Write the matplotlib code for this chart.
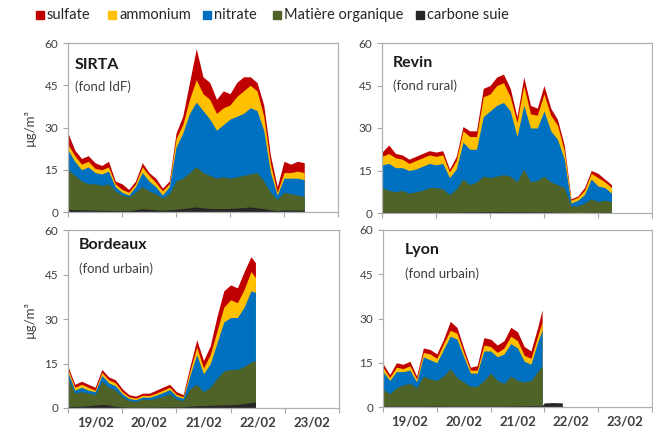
import numpy as np
import matplotlib
matplotlib.use('Agg')
import matplotlib.pyplot as plt
from matplotlib.patches import Rectangle

plt.rcParams['font.family'] = ['Lato', 'DejaVu Sans']

# hours since 19/02 00:00, cumulative tops of each stacked layer (ug/m3)
sirta_h = [0, 3, 6, 9, 12, 15, 18, 21, 24, 27, 30, 33, 36, 39, 42, 45, 48, 51,
           54, 57, 60, 63, 66, 69, 72, 75, 78, 81, 84, 87, 90, 93, 96, 99, 102, 105]
sirta_sulfate = [28, 22, 19, 20, 17.5, 16.5, 18, 11, 10, 8, 11, 17.5, 14, 12, 8.5, 11, 28, 34,
                 46, 58, 48, 46, 40, 43, 42, 46, 48, 48, 46, 38, 20, 9, 18, 17, 18, 17.5]
sirta_ammonium = [24, 20, 17, 18, 15.5, 15, 16, 10, 8, 7, 10, 16, 13, 10.5, 7.5, 10, 26, 31,
                  40, 47, 42, 40, 35, 37, 38, 41, 43, 45, 43, 34, 17, 7, 14, 14, 14.5, 14]
sirta_nitrate = [22, 18, 15, 16, 14, 13.5, 14.5, 9, 7, 6, 9, 14, 11, 9, 6, 9, 23, 28,
                 35, 39, 36, 33, 29, 31, 33, 34, 35, 37, 36, 29, 14, 6, 12, 12, 12, 11.5]
sirta_om = [15, 13, 11, 10, 10, 9.5, 10, 7.5, 6, 5.5, 7, 9, 7.5, 6.5, 5, 6.5, 11, 12,
            14, 16, 14, 13, 12, 12.5, 12, 12.5, 13, 13.5, 14, 11, 7, 4.5, 7, 6.5, 6, 5.5]
sirta_bc = [1, 0.8, 0.8, 0.7, 0.7, 0.6, 0.6, 0.5, 0.5, 0.5, 0.8, 1.2, 1.0, 0.8, 0.6, 0.8, 1.0, 1.2,
            1.5, 1.8, 1.5, 1.3, 1.2, 1.2, 1.3, 1.4, 1.6, 1.8, 1.5, 1.2, 0.8, 0.5, 0.8, 0.7, 0.7, 0.6]

revin_h = [0, 3, 6, 9, 12, 15, 18, 21, 24, 27, 30, 33, 36, 39, 42, 45, 48, 51,
           54, 57, 60, 63, 66, 69, 72, 75, 78, 81, 84, 87, 90, 93, 96, 99, 102]
revin_sulfate = [21.5, 24, 21, 20.5, 19, 20, 21, 22, 21.5, 22, 15.5, 20, 30.5, 29, 29, 44, 45, 48,
                 49, 44, 34, 48, 38, 37, 45, 37, 33, 24, 5, 6, 9, 15, 14, 12, 10]
revin_ammonium = [20, 21, 19.5, 19, 17.5, 18.5, 19.5, 20.5, 20, 20.5, 14.5, 18.5, 29, 27, 27, 41, 42, 45,
                  46, 41, 32, 45, 35, 34.5, 42, 34.5, 31, 22, 4.5, 5.5, 8, 14, 12.5, 11, 9]
revin_nitrate = [17, 17.5, 16, 16, 15, 15.5, 16.5, 17.5, 17, 17.5, 12.5, 15.5, 25, 22.5, 22.5, 34, 36, 38,
                 39, 36, 27, 38, 30, 30, 36, 29, 26, 19, 3.5, 4.5, 6.5, 12, 9.5, 9, 7]
revin_om = [9, 8, 7.5, 8, 7, 7.5, 8, 9, 9, 8.5, 6.5, 8.5, 12, 10, 11, 13, 12.5, 13,
            13.5, 13, 11, 15.5, 11, 11.5, 13, 11, 10, 9, 2.5, 2.5, 3.5, 5, 4, 4.5, 4]
revin_bc = [0.3, 0.3, 0.3, 0.3, 0.3, 0.3, 0.3, 0.3, 0.3, 0.3, 0.3, 0.3, 0.4, 0.4, 0.4, 0.5, 0.5, 0.5,
            0.5, 0.5, 0.4, 0.5, 0.4, 0.4, 0.4, 0.4, 0.3, 0.3, 0.2, 0.2, 0.2, 0.3, 0.3, 0.3, 0.3]

bordeaux_h = [0, 3, 6, 9, 12, 15, 18, 21, 24, 27, 30, 33, 36, 39, 42, 45, 48, 51,
              54, 57, 60, 63, 66, 69, 72, 75, 78, 81, 83]
bordeaux_sulfate = [14, 8, 9, 8, 7, 13, 10.5, 9.5, 6.5, 4.5, 4, 5, 5, 6, 7, 8, 5.5, 4.5,
                    14, 23, 16, 21, 31, 39.5, 41.5, 40.5, 46, 51, 49]
bordeaux_ammonium = [13, 7, 8, 7, 6, 12, 9.5, 8.5, 5.5, 3.8, 3.3, 4.3, 4.2, 5, 6, 7, 4.6, 3.8,
                     12.5, 20.5, 13.5, 18, 26, 34, 36.5, 35.5, 40, 46, 44]
bordeaux_nitrate = [12, 6, 7, 6, 5.5, 11, 8.5, 7.5, 4.8, 3.2, 2.8, 3.7, 3.6, 4.3, 5.2, 6.2, 4, 3.3,
                    11, 18, 11.5, 15, 22, 29, 30.5, 30.5, 34, 39.5, 39]
bordeaux_om = [10, 5, 5.5, 5, 4.5, 9, 7, 6, 3.8, 2.5, 2.2, 3, 2.8, 3.3, 4, 4.8, 3, 2.5,
               6.5, 8, 5.5, 7, 10, 12.5, 13, 13, 14, 15.5, 16]
bordeaux_bc = [0.5, 0.5, 0.6, 0.8, 1.0, 1.2, 1.0, 0.6, 0.4, 0.3, 0.3, 0.3, 0.3, 0.3, 0.4, 0.4, 0.4, 0.4,
               0.6, 0.8, 0.8, 0.9, 1.0, 1.0, 1.1, 1.2, 1.5, 1.8, 2.0]

lyon_h = [0, 3, 6, 9, 12, 15, 18, 21, 24, 27, 30, 33, 36, 39, 42, 45, 48, 51,
          54, 57, 60, 63, 66, 69, 71]
lyon_sulfate = [14.7, 11, 15, 14.5, 15.5, 10.5, 20, 19.5, 18, 23, 29, 27, 20, 13.5, 14, 23.5, 23, 21,
                22.5, 27, 25.5, 20.5, 19, 27, 33]
lyon_ammonium = [13.5, 10, 13.5, 13, 14, 9.5, 18.5, 18, 16.5, 21.5, 26, 25, 18.5, 12.5, 12.5, 21, 20.5, 18.5,
                 20, 24, 22.5, 17.5, 16.5, 24, 29]
lyon_nitrate = [12, 9, 12, 12, 12.5, 8.5, 17, 16, 15, 19.5, 24, 23, 17, 11.5, 11.5, 19, 19, 17,
                18, 21.5, 20, 15.5, 14.5, 22, 26]
lyon_om = [6, 4.5, 6.5, 7.5, 8, 6.5, 10.5, 9.5, 9, 10.5, 13, 10, 8.5, 7, 7, 9, 11.5, 9,
           8, 10.5, 9, 8.5, 9, 12, 14]
lyon_bc_h = [0, 12, 24, 36, 48, 60, 71, 72, 76, 80]
lyon_bc = [0.3, 0.3, 0.4, 0.3, 0.3, 0.4, 0.5, 1.4, 1.5, 1.4]

layer_names = ['sulfate', 'ammonium', 'nitrate', 'Matière organique', 'carbone suie']
layer_colors = ['#C00000', '#FFC000', '#0070C0', '#4F6228', '#262626']
day_labels = ['19/02', '20/02', '21/02', '22/02', '23/02']

W, H = 653, 430
fig = plt.figure(figsize=(W / 100, H / 100), dpi=100)


def px_axes(x0, y0, x1, y1):
    return fig.add_axes([x0 / W, 1 - y1 / H, (x1 - x0) / W, (y1 - y0) / H])


def draw(ax, hours, tops, bc_hours, bc, name, sub, title_pos, bottom, ylabel):
    t = np.array(hours) / 24
    for top, col in zip(tops, layer_colors[:4]):
        ax.fill_between(t, 0, top, color=col, lw=0)
    ax.fill_between(np.array(bc_hours) / 24, 0, bc, color=layer_colors[4], lw=0)
    ax.set_xlim(0, 5)
    ax.set_ylim(0, 60)
    ax.set_yticks([0, 15, 30, 45, 60])
    ax.set_xticks(range(6))
    ax.set_xticklabels([])
    if bottom:
        ax.set_xticks(np.arange(5) + 0.5, minor=True)
        ax.set_xticklabels(day_labels, minor=True, fontsize=9.5, fontweight='bold', color='#404040')
    ax.tick_params(which='minor', length=0, pad=6)
    ax.tick_params(which='major', length=3.5, color='#A6A6A6', labelsize=8.5,
                   labelcolor='#404040', width=0.8)
    for s in ax.spines.values():
        s.set_color('#B0B0B0')
        s.set_linewidth(0.9)
    tx, ty, sy = title_pos
    ax.text(tx, ty, name, transform=ax.transAxes,
            fontsize=11.5, fontweight='bold', color='#1a1a1a', va='center')
    ax.text(tx, sy, sub, transform=ax.transAxes,
            fontsize=9.5, color='#404040', va='center')
    if ylabel:
        ax.set_ylabel('µg/m³', fontsize=9.5, color='#404040', labelpad=6)


ax1 = px_axes(68, 43, 338, 212)
draw(ax1, sirta_h, [sirta_sulfate, sirta_ammonium, sirta_nitrate, sirta_om],
     sirta_h, sirta_bc, 'SIRTA', '(fond IdF)', (0.025, 0.87, 0.74), False, True)
ax2 = px_axes(382, 43, 652, 213)
draw(ax2, revin_h, [revin_sulfate, revin_ammonium, revin_nitrate, revin_om],
     revin_h, revin_bc, 'Revin', '(fond rural)', (0.04, 0.885, 0.75), False, False)
ax3 = px_axes(68, 230, 339, 408)
draw(ax3, bordeaux_h, [bordeaux_sulfate, bordeaux_ammonium, bordeaux_nitrate, bordeaux_om],
     bordeaux_h, bordeaux_bc, 'Bordeaux', '(fond urbain)', (0.04, 0.915, 0.785), True, True)
ax4 = px_axes(383, 230, 652, 407)
draw(ax4, lyon_h, [lyon_sulfate, lyon_ammonium, lyon_nitrate, lyon_om],
     lyon_bc_h, lyon_bc, 'Lyon', '(fond urbain)', (0.08, 0.885, 0.755), True, False)

# legend row across the top
sq_x = [36, 108, 203, 273, 416]
for x, name, col in zip(sq_x, layer_names, layer_colors):
    fig.patches.append(Rectangle((x / W, 1 - 19 / H), 8 / W, 8 / H,
                                 transform=fig.transFigure, color=col))
    fig.text((x + 11) / W, 1 - 15 / H, name, fontsize=10.5, color='#262626', va='center')

fig.savefig('out.png', dpi=100)
